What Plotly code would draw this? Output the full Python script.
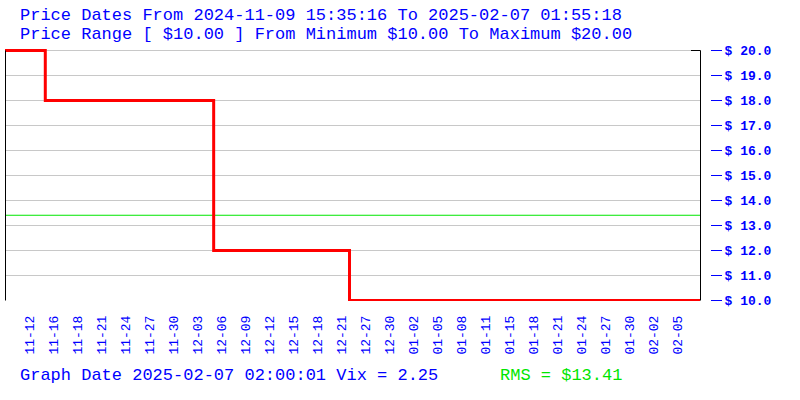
import plotly.graph_objects as go
import pandas as pd

# ---- data ----
price_dates = ["2024-11-09 15:35:16", "2024-11-14 20:00:00", "2024-12-06 12:00:00",
               "2024-12-23 23:30:00", "2025-02-07 01:55:18"]
prices = [20.0, 18.0, 12.0, 10.0, 10.0]

date_start = "2024-11-09 15:35:16"
date_end = "2025-02-07 01:55:18"
graph_date = "2025-02-07 02:00:01"
vix = 2.25
rms = 13.41
price_min = 10.0
price_max = 20.0

y_ticks = [10, 11, 12, 13, 14, 15, 16, 17, 18, 19, 20]
x_tick_labels = ["11-12", "11-16", "11-18", "11-21", "11-24", "11-27", "11-30",
                 "12-03", "12-06", "12-09", "12-12", "12-15", "12-18", "12-21",
                 "12-27", "12-30", "01-02", "01-05", "01-08", "01-11", "01-15",
                 "01-18", "01-21", "01-24", "01-27", "01-30", "02-02", "02-05"]

# evenly spaced label slots across the time range
t0 = pd.Timestamp(date_start)
x_tick_vals = [t0 + pd.to_timedelta(3.217 + 3.088 * k, unit="D") for k in range(len(x_tick_labels))]

BLUE = "#0000ff"
GREEN = "#00e600"
FONT = "Liberation Mono"

W, H = 800, 400
ML, MR, MT, MB = 5, 90, 49, 99
PLOT_R = 700                      # right edge of the price area
PAPER_W = W - ML - MR             # 705
PLOT_W = PLOT_R - ML              # 695
PLOT_H = H - MT - MB              # 252
XDOM = PLOT_W / PAPER_W           # x-axis domain end
PX_PER_DOLLAR = 25.0
# price range padded so that $20 sits on pixel row 50 and $10 on row 300
y_lo = price_min - 0.5 / PX_PER_DOLLAR
y_hi = price_max + 1.5 / PX_PER_DOLLAR

fig = go.Figure()
fig.add_trace(go.Scatter(
    x=[date_start, date_end], y=[rms, rms], mode="lines",
    line=dict(color=GREEN, width=1), hoverinfo="skip", showlegend=False))
fig.add_trace(go.Scatter(
    x=price_dates, y=prices, mode="lines", line_shape="hv",
    line=dict(color="#ff0000", width=3), showlegend=False))

fig.update_layout(
    width=W, height=H,
    margin=dict(l=ML, r=MR, t=MT, b=MB, autoexpand=False),
    paper_bgcolor="white", plot_bgcolor="white",
    font=dict(family=FONT, color=BLUE),
    showlegend=False,
    xaxis=dict(
        domain=[0, XDOM],
        type="date", range=[date_start, date_end],
        showgrid=False, zeroline=False, showline=False,
        tickmode="array", tickvals=x_tick_vals, ticktext=x_tick_labels,
        tickangle=-90, ticks="", ticklabelstandoff=11,
        tickfont=dict(family=FONT, size=13, color=BLUE)),
    yaxis=dict(
        side="right", anchor="free", position=1.0,
        range=[y_lo, y_hi],
        tickmode="array", tickvals=y_ticks,
        ticktext=["$ %.1f" % v for v in y_ticks],
        showgrid=True, gridcolor="#c8c8c8", gridwidth=1,
        zeroline=False, showline=False,
        ticks="outside", ticklen=11, tickwidth=1, tickcolor=BLUE,
        ticklabelstandoff=0,
        tickfont=dict(family=FONT, size=13, color=BLUE, weight="bold")),
)

# black frame: left and right edges of the price area, small top-right cap
hx = 0.5 / PLOT_W
frame = dict(type="line", xref="x domain", yref="y", layer="above")
fig.add_shape(x0=hx, x1=hx, y0=price_min, y1=price_max,
              line=dict(color="black", width=1), **frame)
fig.add_shape(x0=1 + hx, x1=1 + hx, y0=price_min, y1=price_max,
              line=dict(color="black", width=1), **frame)
fig.add_shape(x0=1 - 9 / PLOT_W, x1=1 + hx, y0=price_max, y1=price_max,
              line=dict(color="black", width=1), **frame)

ann = [
    ("Price Dates From %s To %s" % (date_start, date_end), 18, 15, BLUE),
    ("Price Range [ $%.2f ] From Minimum $%.2f To Maximum $%.2f"
     % (price_max - price_min, price_min, price_max), 18, 35, BLUE),
    ("Graph Date %s Vix = %.2f" % (graph_date, vix), 18, 375, BLUE),
    ("RMS = $%.2f" % rms, 498, 375, GREEN),
]
for text, px, py, col in ann:
    fig.add_annotation(
        text=text, xref="paper", yref="paper",
        x=(px - ML) / PAPER_W, y=(H - MB - py) / PLOT_H,
        xanchor="left", yanchor="middle", showarrow=False,
        font=dict(family=FONT, size=17, color=col))

# remove the browser's default 8px body margin so the figure sits at (0, 0)
fig.write_html("out.html", config={"displayModeBar": False},
               post_script="document.body.style.margin='0px';")
